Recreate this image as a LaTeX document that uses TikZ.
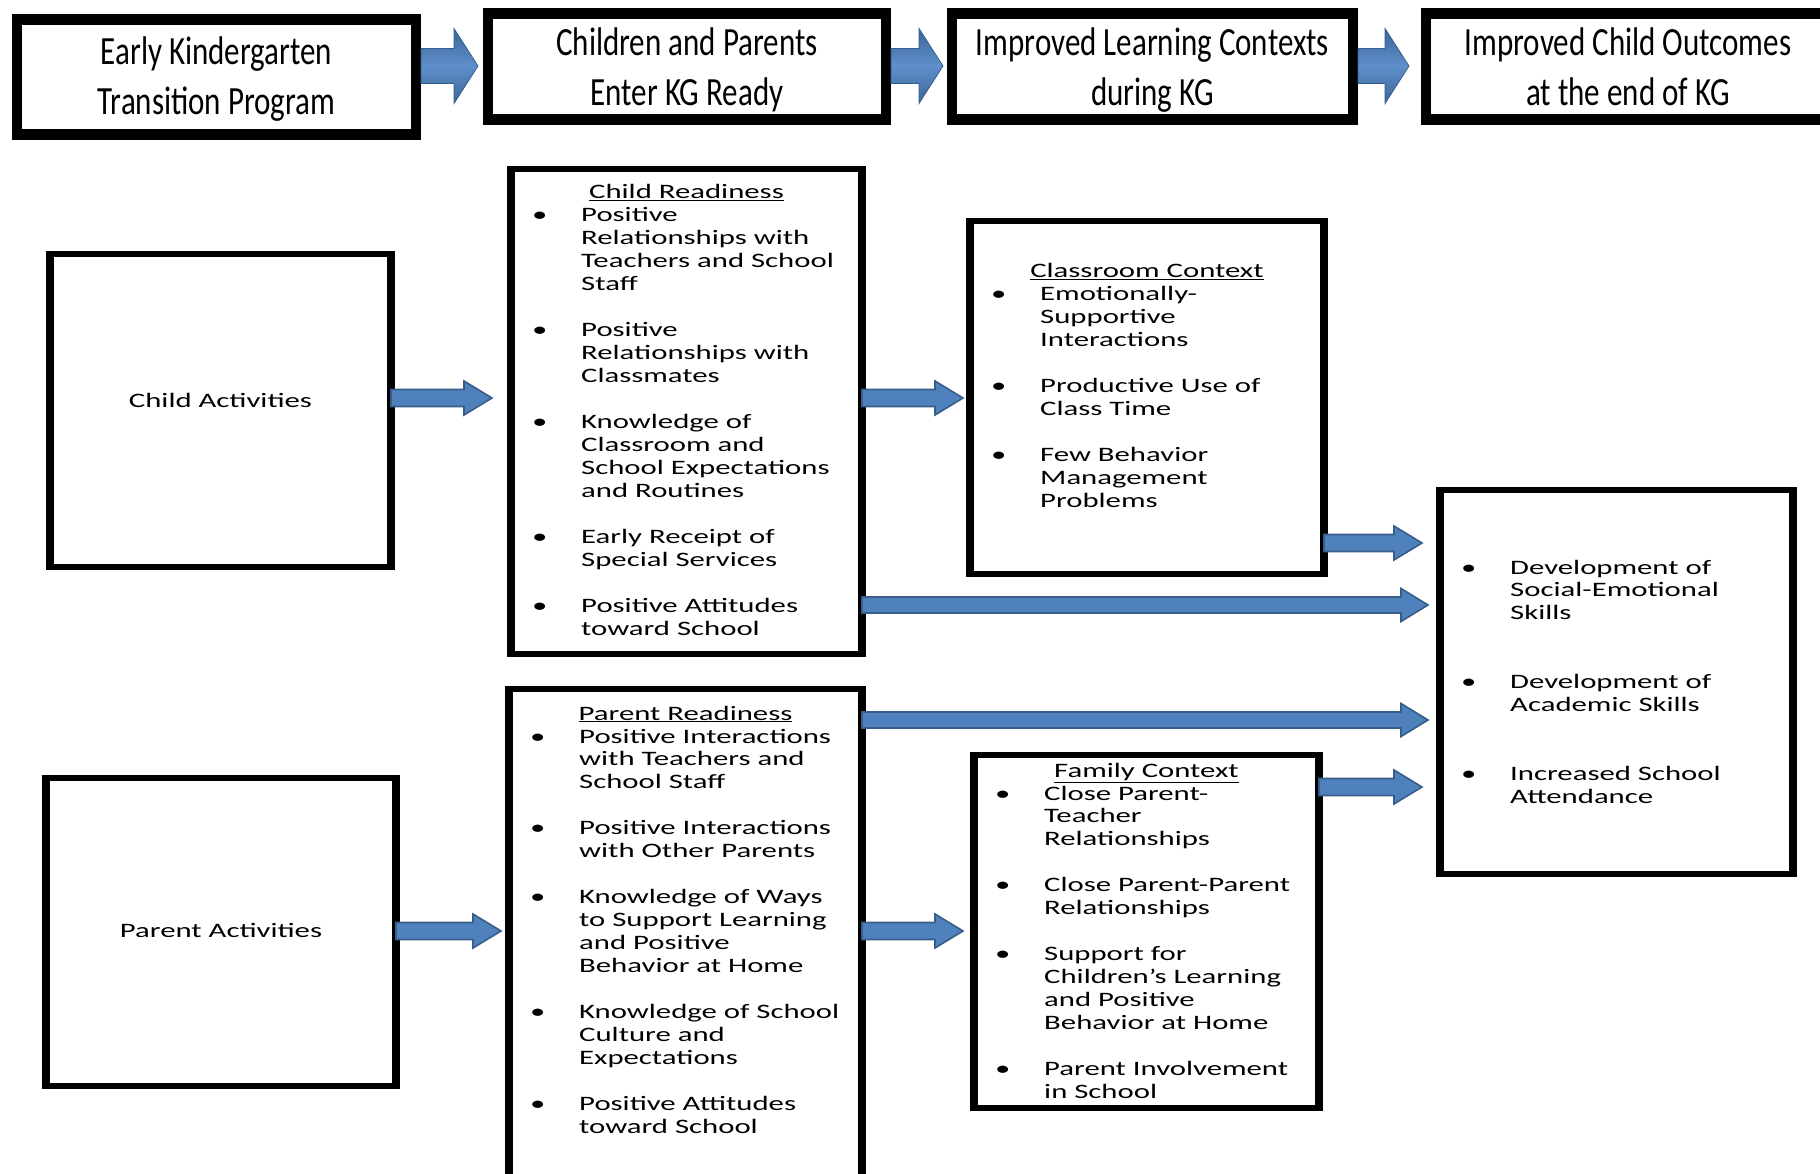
\documentclass[tikz,border=0pt]{standalone}
\usepackage{fontspec}
\setmainfont{Carlito}
\newfontfamily\bodyf[FakeStretch=1.5]{Carlito}
\newfontfamily\headf[FakeStretch=0.775]{Carlito}
\usetikzlibrary{calc,fit}
\definecolor{arrfill}{HTML}{4F81BD}
\definecolor{arrline}{HTML}{385D8A}
\definecolor{arrdark}{HTML}{3A6496}
\definecolor{arrlight}{HTML}{5F90CC}
\newcommand\bodyfont{\bodyf\fontsize{20.5}{22.95}\selectfont}
\newcommand\headfont{\headf\fontsize{40}{49.5}\selectfont}
\newcommand\lst[1]{\begin{tabular}[t]{@{}p{49pt}@{}l@{}}#1\end{tabular}}
\newcommand\mkbox[7]{%
  \coordinate (#1-nw) at (#2,#3);
  \coordinate (#1-se) at (#4,#5);
  \node[fit=(#1-nw)(#1-se), inner sep=0pt, outer sep=0pt, draw=none] (#1) {};
  \fill[black] (#1.north west) rectangle (#1.south east);
  \fill[white] ([shift={(#6,#7)}]#1.north west) rectangle ([shift={(-#6,-#7)}]#1.south east);
}
\newcommand\barrow[6]{%
  \path[#1] ($(#2)+(0,-#4)$) -- ($(#3)+(-#6,-#4)$) -- ($(#3)+(-#6,-#5)$) -- (#3)
     -- ($(#3)+(-#6,#5)$) -- ($(#3)+(-#6,#4)$) -- ($(#2)+(0,#4)$) -- cycle;}
\begin{document}
\begin{tikzpicture}[x=1pt,y=-1pt,
  hdrarrow/.style={top color=arrdark,bottom color=arrdark,middle color=arrlight,draw=arrline,line width=0.8pt},
  conarrow/.style={fill=arrfill,draw=arrline,line width=1.6pt},
  bodytxt/.style={font=\bodyfont, inner sep=0pt, text=black},
  headtxt/.style={font=\headfont, inner sep=0pt, text=black}]
\useasboundingbox (0,0) rectangle (1820,1174);
\fill[white] (0,0) rectangle (1820,1174);
\clip (0,0) rectangle (1820,1174);

% header boxes
\mkbox{h1}{12}{14}{421}{140}{10}{11}
\mkbox{h2}{483}{8}{891}{125}{10}{11}
\mkbox{h3}{947}{8}{1358}{125}{10}{11}
\mkbox{h4}{1421}{8}{1835}{125}{10}{11}

\node[headtxt, anchor=base] (h1t) at (h1.center |- 0,65) {\begin{tabular}[t]{@{}c@{}}Early Kindergarten\\Transition Program\end{tabular}};
\node[headtxt, anchor=base] (h2t) at (h2.center |- 0,56) {\begin{tabular}[t]{@{}c@{}}Children and Parents\\Enter KG Ready\end{tabular}};
\node[headtxt, anchor=base] (h3t) at (h3.center |- 0,56) {\begin{tabular}[t]{@{}c@{}}Improved Learning Contexts\\during KG\end{tabular}};
\node[headtxt, anchor=base] (h4t) at (h4.center |- 0,56) {\begin{tabular}[t]{@{}c@{}}Improved Child Outcomes\\at the end of KG\end{tabular}};

% header arrows
\coordinate (a1s) at (h1.east |- 0,66);
\coordinate (a1e) at ($(h2.west |- 0,66)+(-5,0)$);
\coordinate (a2s) at (h2.east |- 0,66);
\coordinate (a2e) at ($(h3.west |- 0,66)+(-4,0)$);
\coordinate (a3s) at (h3.east |- 0,66);
\coordinate (a3e) at ($(h4.west |- 0,66)+(-12,0)$);
\barrow{hdrarrow}{a1s}{a1e}{17.5}{37.5}{24}
\barrow{hdrarrow}{a2s}{a2e}{17.5}{37.5}{24}
\barrow{hdrarrow}{a3s}{a3e}{17.5}{37.5}{24}

% content boxes
\mkbox{ca}{46}{251}{395}{570}{8}{6}
\mkbox{cr}{507}{166}{866}{657}{8}{6}
\mkbox{cc}{966}{218}{1328}{577}{8}{6}
\mkbox{co}{1436}{487}{1797}{877}{8}{6}
\mkbox{pa}{42}{775}{400}{1089}{8}{6}
\mkbox{pr}{505}{686}{866}{1200}{8}{6}
\mkbox{fc}{970}{752}{1323}{1111}{8}{6}

% texts
\node[bodytxt, anchor=base] (cat) at (ca.center |- 0,407) {Child Activities};
\node[bodytxt, anchor=base] (pat) at (pa.center |- 0,937) {Parent Activities};

\node[bodytxt, anchor=base] (crt) at (cr.center |- 0,199) {\underline{Child Readiness}};
\node[bodytxt, anchor=base west] (crl) at ($(cr.west |- 0,222)+(25,0)$) {\lst{%
\textbullet & Positive\\
& Relationships with\\
& Teachers and School\\
& Staff\\
&\\
\textbullet & Positive\\
& Relationships with\\
& Classmates\\
&\\
\textbullet & Knowledge of\\
& Classroom and\\
& School Expectations\\
& and Routines\\
&\\
\textbullet & Early Receipt of\\
& Special Services\\
&\\
\textbullet & Positive Attitudes\\
& toward School}};

\node[bodytxt, anchor=base] (cct) at (cc.center |- 0,278) {\underline{Classroom Context}};
\node[bodytxt, anchor=base west] (ccl) at ($(cc.west |- 0,301)+(25,0)$) {\lst{%
\textbullet & Emotionally-\\
& Supportive\\
& Interactions\\
&\\
\textbullet & Productive Use of\\
& Class Time\\
&\\
\textbullet & Few Behavior\\
& Management\\
& Problems}};

\node[bodytxt, anchor=base west] (col) at ($(co.west |- 0,574)+(25,0)$) {\lst{%
\textbullet & Development of\\
& Social-Emotional\\
& Skills\\
&\\
&\\
\textbullet & Development of\\
& Academic Skills\\
&\\
&\\
\textbullet & Increased School\\
& Attendance}};

\node[bodytxt, anchor=base] (prt) at (pr.center |- 0,720) {\underline{Parent Readiness}};
\node[bodytxt, anchor=base west] (prl) at ($(pr.west |- 0,743)+(25,0)$) {\lst{%
\textbullet & Positive Interactions\\
& with Teachers and\\
& School Staff\\
&\\
\textbullet & Positive Interactions\\
& with Other Parents\\
&\\
\textbullet & Knowledge of Ways\\
& to Support Learning\\
& and Positive\\
& Behavior at Home\\
&\\
\textbullet & Knowledge of School\\
& Culture and\\
& Expectations\\
&\\
\textbullet & Positive Attitudes\\
& toward School}};

\node[bodytxt, anchor=base] (fct) at (fc.center |- 0,777) {\underline{Family Context}};
\node[bodytxt, anchor=base west] (fcl) at ($(fc.west |- 0,800)+(25,0)$) {\lst{%
\textbullet & Close Parent-\\
& Teacher\\
& Relationships\\
&\\
\textbullet & Close Parent-Parent\\
& Relationships\\
&\\
\textbullet & Support for\\
& Children’s Learning\\
& and Positive\\
& Behavior at Home\\
&\\
\textbullet & Parent Involvement\\
& in School}};

% content arrows
\coordinate (b1s) at ($(ca.east |- 0,398)+(-4,0)$);
\coordinate (b1e) at ($(cr.west |- 0,398)+(-15,0)$);
\coordinate (b2s) at ($(cr.east |- 0,398)+(-4,0)$);
\coordinate (b2e) at ($(cc.west |- 0,398)+(-3,0)$);
\coordinate (b3s) at ($(cc.east |- 0,543)+(-4,0)$);
\coordinate (b3e) at ($(co.west |- 0,543)+(-14,0)$);
\coordinate (b4s) at ($(cr.east |- 0,605)+(-4,0)$);
\coordinate (b4e) at ($(co.west |- 0,605)+(-8,0)$);
\coordinate (b5s) at ($(pr.east |- 0,720)+(-4,0)$);
\coordinate (b5e) at ($(co.west |- 0,720)+(-8,0)$);
\coordinate (b6s) at ($(fc.east |- 0,787)+(-4,0)$);
\coordinate (b6e) at ($(co.west |- 0,787)+(-14,0)$);
\coordinate (b7s) at ($(pa.east |- 0,931)+(-4,0)$);
\coordinate (b7e) at ($(pr.west |- 0,931)+(-4,0)$);
\coordinate (b8s) at ($(pr.east |- 0,931)+(-4,0)$);
\coordinate (b8e) at ($(fc.west |- 0,931)+(-7,0)$);
\barrow{conarrow}{b1s}{b1e}{8.5}{17}{28}
\barrow{conarrow}{b2s}{b2e}{8.5}{17}{28}
\barrow{conarrow}{b3s}{b3e}{8.5}{17}{28}
\barrow{conarrow}{b4s}{b4e}{8}{16.5}{27}
\barrow{conarrow}{b5s}{b5e}{8}{16.5}{27}
\barrow{conarrow}{b6s}{b6e}{8.5}{17}{28}
\barrow{conarrow}{b7s}{b7e}{8.5}{17}{28}
\barrow{conarrow}{b8s}{b8e}{8.5}{17}{28}
\end{tikzpicture}
\end{document}
